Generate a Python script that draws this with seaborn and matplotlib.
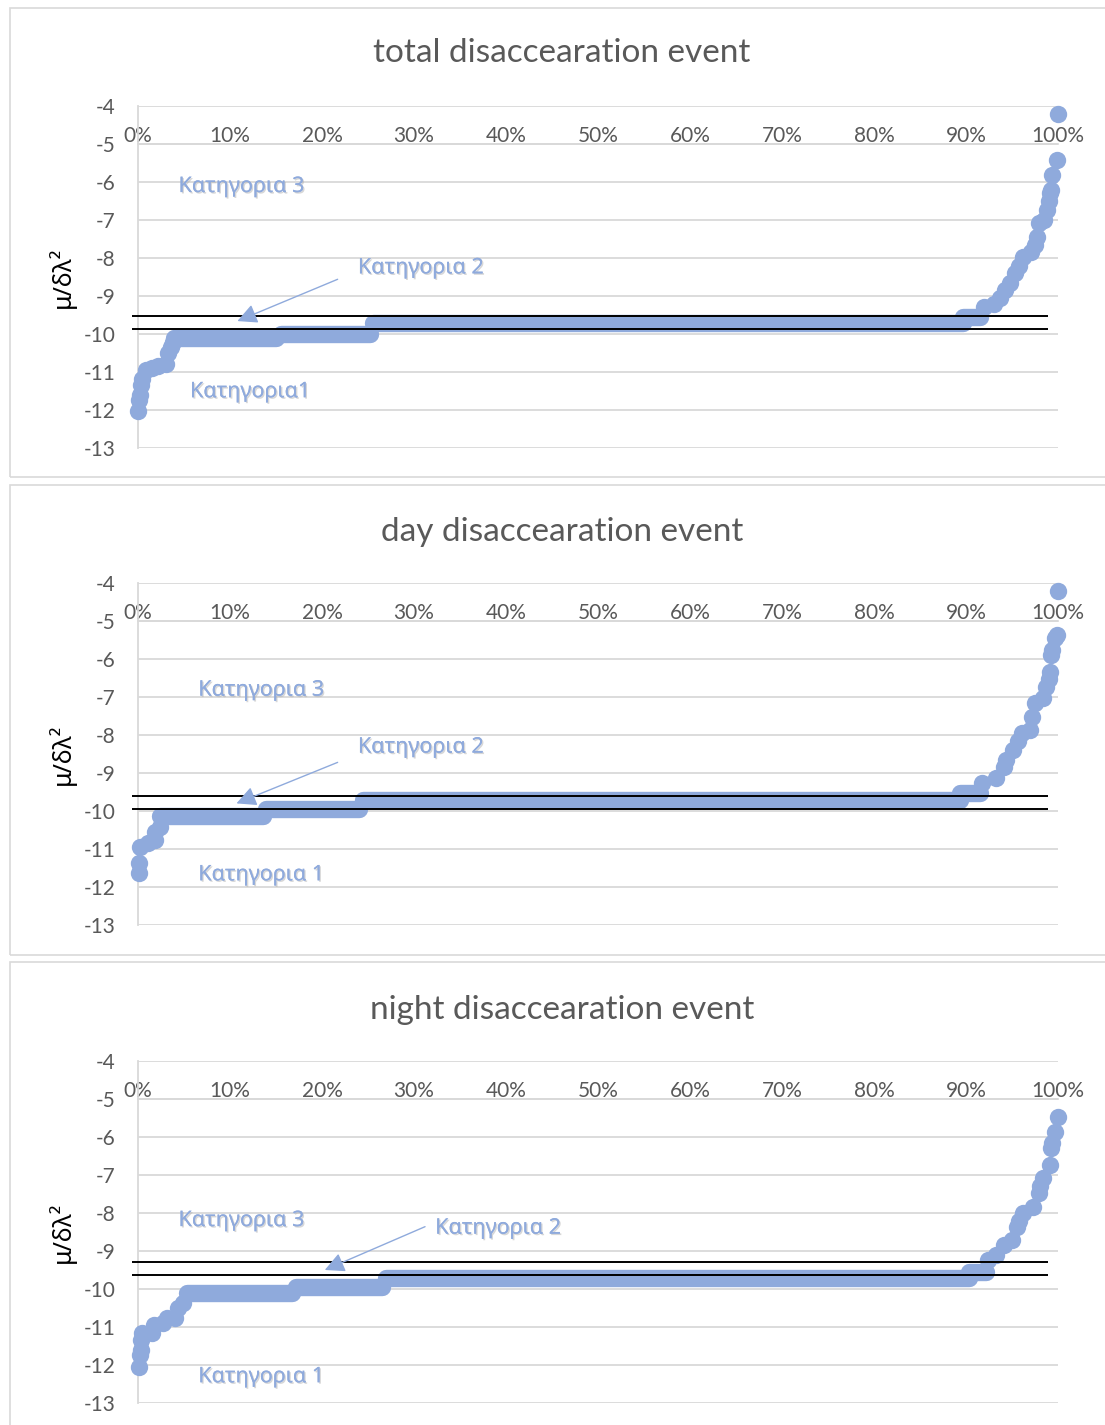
import numpy as np
import pandas as pd
import matplotlib
matplotlib.use("Agg")
import matplotlib.pyplot as plt
import matplotlib.patheffects as pe
from matplotlib.patches import Rectangle
import seaborn as sns

# ---- data ----
TITLES = ["total disaccearation event", "day disaccearation event", "night disaccearation event"]

X_TICKS = [0.0, 0.1, 0.2, 0.3, 0.4, 0.5, 0.6, 0.7, 0.8, 0.9, 1.0]
X_TICK_LABELS = ["0%", "10%", "20%", "30%", "40%", "50%", "60%", "70%", "80%", "90%", "100%"]
Y_TICKS = [-13, -12, -11, -10, -9, -8, -7, -6, -5, -4]

# total: single points on the rising tails
TOTAL_PCT = [0.000, 0.001, 0.002, 0.003, 0.004, 0.009, 0.015, 0.022, 0.030, 0.033, 0.036, 0.038,
             0.920, 0.930, 0.937, 0.942, 0.948, 0.953, 0.958, 0.962, 0.971, 0.975, 0.977, 0.979,
             0.985, 0.988, 0.990, 0.991, 0.992, 0.994, 0.999, 1.000]
TOTAL_VAL = [-12.02, -11.75, -11.60, -11.35, -11.18, -10.95, -10.90, -10.85, -10.78, -10.50, -10.35, -10.20,
             -9.30, -9.20, -9.06, -8.84, -8.65, -8.40, -8.20, -7.97, -7.85, -7.65, -7.44, -7.09,
             -7.00, -6.74, -6.50, -6.30, -6.20, -5.82, -5.42, -4.20]
# total: flat runs (start, end, value)
TOTAL_RUN_START = [0.039, 0.155, 0.255, 0.897]
TOTAL_RUN_END = [0.150, 0.252, 0.897, 0.915]
TOTAL_RUN_VAL = [-10.10, -9.99, -9.70, -9.54]
TOTAL_LIMITS = [-9.53, -9.86]

DAY_PCT = [0.001, 0.001, 0.002, 0.011, 0.0185, 0.0185, 0.024,
           0.917, 0.933, 0.941, 0.944, 0.951, 0.956, 0.961, 0.970, 0.972, 0.975, 0.984,
           0.987, 0.990, 0.991, 0.992, 0.993, 0.997, 0.999, 1.000]
DAY_VAL = [-11.64, -11.38, -10.94, -10.85, -10.76, -10.54, -10.41,
           -9.27, -9.14, -8.83, -8.66, -8.39, -8.15, -7.96, -7.87, -7.52, -7.17, -7.03,
           -6.73, -6.52, -6.33, -5.89, -5.76, -5.46, -5.37, -4.20]
DAY_RUN_START = [0.024, 0.139, 0.245, 0.893]
DAY_RUN_END = [0.136, 0.240, 0.893, 0.915]
DAY_RUN_VAL = [-10.13, -9.96, -9.72, -9.53]
DAY_LIMITS = [-9.61, -9.96]

NIGHT_PCT = [0.001, 0.002, 0.003, 0.003, 0.004, 0.015, 0.017, 0.0275, 0.031, 0.040, 0.044, 0.049,
             0.924, 0.933, 0.941, 0.950, 0.955, 0.958, 0.962, 0.973, 0.979, 0.980, 0.984,
             0.991, 0.992, 0.994, 0.997, 1.000]
NIGHT_VAL = [-12.04, -11.74, -11.60, -11.34, -11.17, -11.17, -10.95, -10.90, -10.77, -10.77, -10.51, -10.38,
             -9.24, -9.10, -8.84, -8.71, -8.36, -8.20, -8.00, -7.83, -7.48, -7.30, -7.09,
             -6.74, -6.30, -6.17, -5.86, -5.47]
NIGHT_RUN_START = [0.053, 0.172, 0.270, 0.903]
NIGHT_RUN_END = [0.167, 0.265, 0.903, 0.922]
NIGHT_RUN_VAL = [-10.10, -9.96, -9.71, -9.54]
NIGHT_LIMITS = [-9.30, -9.64]

CAT1_LABELS = ["Κατηγορια1", "Κατηγορια 1", "Κατηγορια 1"]

# ---- layout (pixels of the 1105x1425 canvas) ----
W, H = 1105, 1425
AX_LEFT, AX_RIGHT = 138, 1058
AX_TOPS = [106, 583, 1061]
AX_H = 342
FRAMES = [(10, 8, 477), (10, 485, 955), (10, 962, 1435)]
TITLE_Y = [53, 532, 1010]
# annotation placement in data coords: cat3 text, cat2 text, arrow tail, arrow tip, cat1 text
ANNOT = [
    dict(c3=(0.044, -6.12), c2=(0.239, -8.26), tail=(0.217, -8.56), tip=(0.108, -9.66), c1=(0.0565, -11.52)),
    dict(c3=(0.0655, -6.82), c2=(0.239, -8.32), tail=(0.217, -8.72), tip=(0.107, -9.80), c1=(0.0655, -11.68)),
    dict(c3=(0.044, -8.20), c2=(0.323, -8.40), tail=(0.312, -8.36), tip=(0.203, -9.50), c1=(0.0655, -12.31)),
]

BLUE = "#8FAADC"
GRID = "#D9D9D9"
TXT = "#595959"
DOT = 12.5  # marker diameter in points

sns.set_theme(style="white")
plt.rcParams["font.family"] = ["Lato", "DejaVu Sans"]
plt.rcParams["axes.unicode_minus"] = False

fig = plt.figure(figsize=(W / 100, H / 100), dpi=100)

panels = [
    (TOTAL_PCT, TOTAL_VAL, TOTAL_RUN_START, TOTAL_RUN_END, TOTAL_RUN_VAL, TOTAL_LIMITS),
    (DAY_PCT, DAY_VAL, DAY_RUN_START, DAY_RUN_END, DAY_RUN_VAL, DAY_LIMITS),
    (NIGHT_PCT, NIGHT_VAL, NIGHT_RUN_START, NIGHT_RUN_END, NIGHT_RUN_VAL, NIGHT_LIMITS),
]

shadow = [pe.withSimplePatchShadow(offset=(1, -1), shadow_rgbFace="#B0B0B0", alpha=0.5), pe.Normal()]

for i, (pct, val, rs, re_, rv, limits) in enumerate(panels):
    fx, ftop, fbot = FRAMES[i]
    fig.add_artist(Rectangle((fx / W, 1 - fbot / H), (W - fx + 20) / W, (fbot - ftop) / H,
                             transform=fig.transFigure, fill=False, edgecolor=GRID, lw=1.2))
    fig.text(562 / W, 1 - TITLE_Y[i] / H, TITLES[i], ha="center", va="center",
             fontsize=24, color=TXT)

    ax = fig.add_axes([AX_LEFT / W, 1 - (AX_TOPS[i] + AX_H) / H, (AX_RIGHT - AX_LEFT) / W, AX_H / H])

    runs = pd.DataFrame({
        "pct": list(rs) + list(re_),
        "val": list(rv) + list(rv),
        "run": list(range(len(rs))) * 2,
    })
    sns.lineplot(data=runs, x="pct", y="val", units="run", estimator=None, sort=True,
                 color=BLUE, lw=DOT, solid_capstyle="round", ax=ax, legend=False, zorder=3)
    pts = pd.DataFrame({"pct": pct, "val": val})
    sns.scatterplot(data=pts, x="pct", y="val", color=BLUE, s=DOT ** 2, linewidth=0,
                    ax=ax, legend=False, clip_on=False, zorder=3)

    ax.hlines(limits, xmin=-0.006, xmax=0.989, color="black", lw=1.4, zorder=4, clip_on=False)

    ax.set_xlim(0, 1)
    ax.set_ylim(-13, -4)
    ax.set_yticks(Y_TICKS)
    ax.set_yticklabels([str(t) for t in Y_TICKS])
    ax.set_xticks(X_TICKS)
    ax.set_xticklabels(X_TICK_LABELS)
    ax.xaxis.set_ticks_position("top")
    ax.spines["top"].set_position(("data", -5))
    ax.spines["top"].set_color(GRID)
    ax.spines["left"].set_color(GRID)
    ax.spines["left"].set_linewidth(1.3)
    ax.spines["right"].set_visible(False)
    ax.spines["bottom"].set_visible(False)
    ax.tick_params(axis="x", length=0, pad=-1.5, labelsize=15, labelcolor=TXT)
    ax.tick_params(axis="y", length=0, pad=16, labelsize=15, labelcolor=TXT)
    ax.yaxis.grid(True, color=GRID, lw=1.3)
    ax.xaxis.grid(False)
    ax.set_axisbelow(True)
    ax.set_xlabel("")
    ax.set_ylabel("")
    ax.text(-0.083, 0.5, "μ/δλ²", transform=ax.transAxes, rotation=90, ha="center", va="center",
            fontsize=18, color="black", family=["Noto Sans", "DejaVu Sans"])

    a = ANNOT[i]
    greek = dict(color=BLUE, fontsize=15.5, family=["Noto Sans", "DejaVu Sans"], va="center", ha="left",
                 path_effects=shadow, zorder=5)
    ax.text(*a["c3"], "Κατηγορια 3", **greek)
    ax.text(*a["c2"], "Κατηγορια 2", **greek)
    ax.text(*a["c1"], CAT1_LABELS[i], **greek)
    ax.annotate("", xy=a["tip"], xytext=a["tail"],
                arrowprops=dict(arrowstyle="-|>,head_length=0.6,head_width=0.3", color=BLUE,
                                lw=1, mutation_scale=20, shrinkA=0, shrinkB=0), zorder=5)

fig.savefig("out.png", dpi=100)
